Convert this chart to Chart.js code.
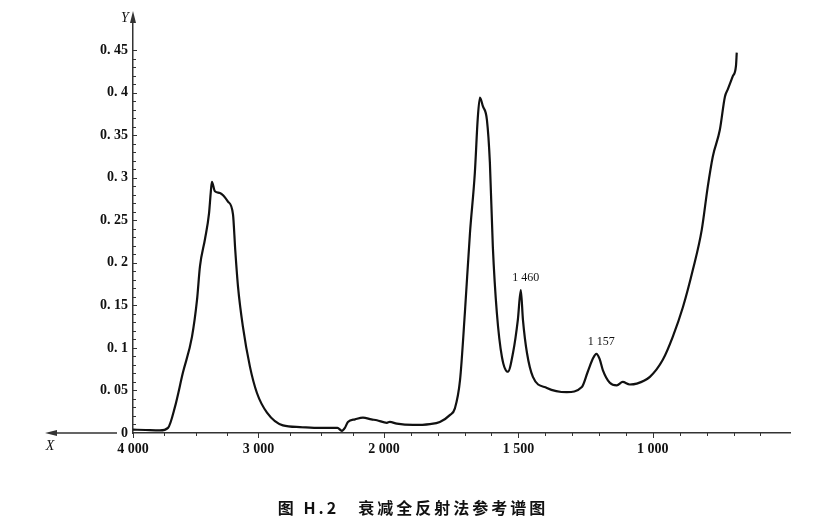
<!DOCTYPE html>
<html>
<head>
<meta charset="utf-8">
<script src="https://cdn.jsdelivr.net/npm/chart.js@4.4.1/dist/chart.umd.min.js"></script>
<style>
  html, body { margin: 0; padding: 0; background: #fff; }
  #wrap { width: 831px; height: 530px; }
</style>
</head>
<body>
<div id="wrap"><canvas id="spectrum"></canvas></div>
<script>
// wavenumber (cm-1) from left to right
const wavenumbers = [
  4000, 3900, 3785, 3721, 3665, 3602, 3530, 3490, 3466, 3426, 3394, 3380, 3371, 3347, 3307,
  3243, 3203, 3185, 3163, 3124, 3068, 3012, 2932, 2805, 2669, 2510, 2430, 2370, 2335, 2311,
  2287, 2230, 2167, 2100, 2056, 1989, 1978, 1952, 1892, 1829, 1792, 1755, 1736, 1717, 1699,
  1680, 1662, 1651, 1643, 1632, 1617, 1606, 1595, 1580, 1561, 1539, 1520, 1502, 1491, 1483,
  1468, 1446, 1394, 1320, 1264, 1242, 1222, 1210, 1198, 1186, 1160, 1134, 1112, 1086, 1060,
  1011, 963, 926, 888, 851, 818, 796, 777, 751, 732, 721, 703, 691, 688
];
const absorbance = [
  0.004, 0.0035, 0.003, 0.006, 0.031, 0.071, 0.113, 0.156, 0.196, 0.228, 0.258, 0.283, 0.295, 0.284, 0.282,
  0.272, 0.257, 0.215, 0.172, 0.125, 0.078, 0.047, 0.024, 0.009, 0.007, 0.006, 0.006, 0.006, 0.0025, 0.006,
  0.013, 0.016, 0.018, 0.016, 0.015, 0.012, 0.013, 0.011, 0.0095, 0.0105, 0.013, 0.021, 0.029, 0.062, 0.141,
  0.235, 0.305, 0.37, 0.394, 0.384, 0.368, 0.318, 0.219, 0.141, 0.089, 0.072, 0.094, 0.133, 0.168, 0.133,
  0.094, 0.066, 0.053, 0.048, 0.054, 0.072, 0.088, 0.093, 0.087, 0.074, 0.059, 0.056, 0.060, 0.057, 0.058,
  0.066, 0.086, 0.113, 0.148, 0.192, 0.239, 0.289, 0.325, 0.356, 0.395, 0.404, 0.419, 0.431, 0.447
];

const xMajorTicks = [4000, 3000, 2000, 1500, 1000];
const xTickLabels = ['4 000', '3 000', '2 000', '1 500', '1 000'];
const xMinorTicks = [3750, 3500, 3250, 2750, 2500, 2250, 1900, 1800, 1700, 1600, 1400, 1300, 1200, 1100, 900, 800, 700, 600];
const yMajorTicks = [0, 0.05, 0.1, 0.15, 0.2, 0.25, 0.3, 0.35, 0.4, 0.45];
const yTickLabels = ['0', '0. 05', '0. 1', '0. 15', '0. 2', '0. 25', '0. 3', '0. 35', '0. 4', '0. 45'];

const peakWavenumbers = [1491, 1210];
const peakValues = [0.168, 0.093];
const peakTexts = ['1 460', '1 157'];

const titleText = '图 H.2　衰减全反射法参考谱图';

// IR spectra use a doubled scale below 2000 cm-1
const BREAK = 2000;
const SQUEEZE = 0.4665;

class SplitScale extends Chart.LinearScale {
  squash(v) { return v > BREAK ? BREAK + (v - BREAK) * SQUEEZE : v; }
  unsquash(s) { return s > BREAK ? BREAK + (s - BREAK) / SQUEEZE : s; }
  getPixelForValue(v) {
    const hi = this.squash(this.max), lo = this.squash(this.min);
    return this.left + (hi - this.squash(v)) / (hi - lo) * this.width;
  }
  getValueForPixel(px) {
    const hi = this.squash(this.max), lo = this.squash(this.min);
    return this.unsquash(hi - (px - this.left) / this.width * (hi - lo));
  }
}
SplitScale.id = 'split';
Chart.register(SplitScale);

const ink = '#111';
const axisColor = '#333';
const tickFont = { family: '"Liberation Serif", serif', size: 14, weight: 'bold' };

const decorations = {
  id: 'decorations',
  afterDraw(chart) {
    const { ctx, chartArea: area, scales: { x, y } } = chart;
    ctx.save();
    ctx.strokeStyle = axisColor;
    ctx.fillStyle = axisColor;
    ctx.lineWidth = 1;

    // y ticks point into the plot
    ctx.beginPath();
    yMajorTicks.slice(1).forEach(v => {
      const py = Math.round(y.getPixelForValue(v)) + 0.5;
      ctx.moveTo(area.left, py); ctx.lineTo(area.left + 4, py);
    });
    for (let i = 1; i < 45; i++) {
      if (i % 5 === 0) continue;
      const py = Math.round(y.getPixelForValue(i / 100)) + 0.5;
      ctx.moveTo(area.left, py); ctx.lineTo(area.left + 3, py);
    }
    // x ticks hang below the axis
    xMajorTicks.forEach(v => {
      const px = Math.round(x.getPixelForValue(v)) + 0.5;
      ctx.moveTo(px, area.bottom); ctx.lineTo(px, area.bottom + 5);
    });
    xMinorTicks.forEach(v => {
      const px = Math.round(x.getPixelForValue(v)) + 0.5;
      ctx.moveTo(px, area.bottom); ctx.lineTo(px, area.bottom + 3);
    });
    ctx.stroke();

    // x axis runs on past the origin, with arrows on both axes
    ctx.lineWidth = 1.5;
    ctx.beginPath();
    ctx.moveTo(50, area.bottom); ctx.lineTo(area.left - 16, area.bottom);
    ctx.moveTo(area.left, area.top); ctx.lineTo(area.left, 20);
    ctx.stroke();
    ctx.beginPath();
    ctx.moveTo(45, area.bottom); ctx.lineTo(57, area.bottom - 3); ctx.lineTo(57, area.bottom + 3);
    ctx.closePath(); ctx.fill();
    ctx.beginPath();
    ctx.moveTo(area.left, 11); ctx.lineTo(area.left - 3, 23); ctx.lineTo(area.left + 3, 23);
    ctx.closePath(); ctx.fill();

    ctx.fillStyle = ink;
    ctx.font = 'italic 14px "Liberation Serif", serif';
    ctx.textAlign = 'center';
    ctx.textBaseline = 'middle';
    ctx.fillText('Y', area.left - 8, 18);
    ctx.fillText('X', 50, 446);

    // peak labels
    ctx.font = '12px "Liberation Serif", serif';
    ctx.textBaseline = 'bottom';
    peakWavenumbers.forEach((w, i) => {
      ctx.fillText(peakTexts[i], x.getPixelForValue(w) + 5, y.getPixelForValue(peakValues[i]) - 6);
    });

    // caption
    ctx.font = 'bold 16px "Noto Sans CJK SC", sans-serif';
    ctx.letterSpacing = '3px';
    ctx.textBaseline = 'middle';
    ctx.fillText(titleText, 413, 508);
    ctx.restore();
  }
};

new Chart(document.getElementById('spectrum'), {
  type: 'line',
  data: {
    datasets: [{
      data: wavenumbers.map((w, i) => ({ x: w, y: absorbance[i] })),
      borderColor: ink,
      borderWidth: 2.2,
      pointRadius: 0,
      fill: false,
      cubicInterpolationMode: 'monotone'
    }]
  },
  options: {
    animation: false,
    responsive: true,
    maintainAspectRatio: false,
    layout: { padding: { left: 0, right: 41, top: 16, bottom: 52 } },
    plugins: {
      legend: { display: false },
      tooltip: { enabled: false }
    },
    scales: {
      x: {
        type: 'split',
        min: 490,
        max: 4000,
        afterBuildTicks: s => { s.ticks = xMajorTicks.map(v => ({ value: v })); },
        afterFit: s => { s.height = 45; },
        ticks: {
          autoSkip: false,
          maxRotation: 0,
          padding: 8,
          color: ink,
          font: tickFont,
          callback: (v, i) => xTickLabels[i]
        },
        grid: { drawOnChartArea: false, drawTicks: false },
        border: { color: axisColor, width: 1.5 }
      },
      y: {
        type: 'linear',
        min: 0,
        max: 0.49,
        afterBuildTicks: s => { s.ticks = yMajorTicks.map(v => ({ value: v })); },
        afterFit: s => { s.width = 133; },
        ticks: {
          padding: 5,
          color: ink,
          font: tickFont,
          callback: (v, i) => yTickLabels[i]
        },
        grid: { drawOnChartArea: false, drawTicks: false },
        border: { color: axisColor, width: 1.5 }
      }
    }
  },
  plugins: [decorations]
});
</script>
</body>
</html>
